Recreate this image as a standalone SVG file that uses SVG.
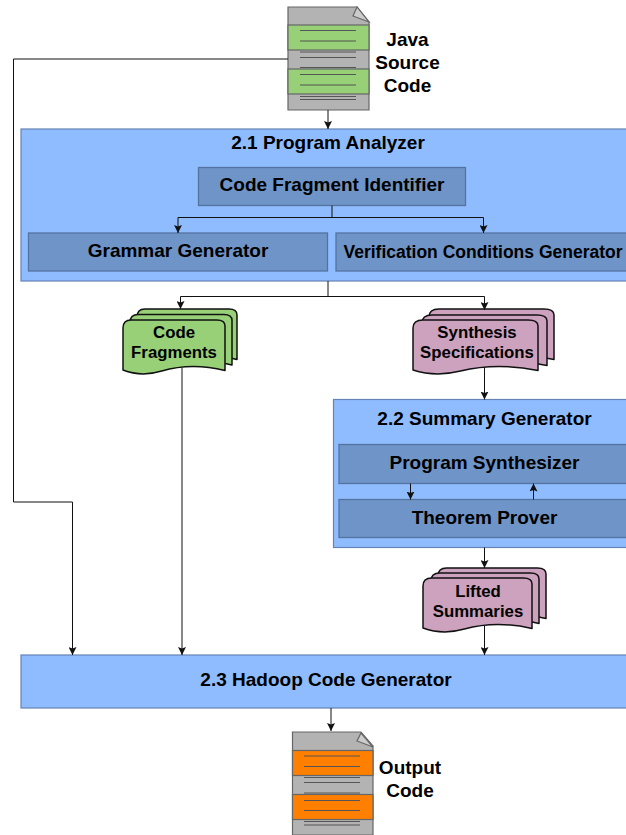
<svg xmlns="http://www.w3.org/2000/svg" width="626" height="835" viewBox="0 0 626 835">
<style>
text{font-family:"Liberation Sans",Arial,sans-serif;font-weight:bold;fill:#000;text-anchor:middle}
.t19{font-size:19px}.t17{font-size:16.800px;stroke:none}
.big{fill:#8fbcff;stroke:#6483b4;stroke-width:1.2}
.box{fill:#6f94c8;stroke:#55739f;stroke-width:1.3}
.con{fill:none;stroke:#111;stroke-width:1}
.doc{stroke:#666;stroke-width:1.2}
.ln{stroke:#555;stroke-width:1}
.st{stroke:#111;stroke-width:1.5;stroke-linejoin:round}
</style>
<defs>
<marker id="ah" markerWidth="9" markerHeight="8" refX="8" refY="4" orient="auto" markerUnits="userSpaceOnUse"><path d="M0,0L8,4L0,8L1.500,4Z" fill="#111"/></marker>
<path id="w" d="M0,12Q0,4 8,4H92Q100,4 100,10V54.500C78,49 58,49 38,55C22,60 10,58 0,54Z" vector-effect="non-scaling-stroke"/>
</defs>
<rect width="626" height="835" fill="#fff"/>
<g id="program-analyzer"><rect class="big" x="21" y="129" width="606" height="152"/><text class="t19" x="328" y="149">2.1 Program Analyzer</text></g>
<g id="code-fragment-identifier"><rect class="box" x="198.500" y="167.500" width="267" height="38"/><text class="t19" x="332" y="191">Code Fragment Identifier</text></g>
<g id="grammar-generator"><rect class="box" x="28.500" y="233" width="299" height="38"/><text class="t19" x="178" y="257">Grammar Generator</text></g>
<g id="vc-generator"><rect class="box" x="336" y="233" width="291" height="38"/><text x="483" y="257.500" style="font-size:17.500px">Verification Conditions Generator</text></g>
<g id="summary-generator"><rect class="big" x="333.500" y="399.500" width="294" height="148"/><text class="t19" x="484.500" y="425">2.2 Summary Generator</text></g>
<g id="program-synthesizer"><rect class="box" x="339" y="444.500" width="288" height="39"/><text class="t19" x="484.500" y="469">Program Synthesizer</text></g>
<g id="theorem-prover"><rect class="box" x="339" y="499.500" width="288" height="38"/><text class="t19" x="484.500" y="524">Theorem Prover</text></g>
<g id="hadoop-code-generator"><rect class="big" x="21" y="655" width="606" height="53"/><text class="t19" x="326" y="686">2.3 Hadoop Code Generator</text></g>
<g id="java-source-code">
<path class="doc" d="M288,7H357L369,22V110H288Z" fill="#b3b3b3"/>
<path class="doc" d="M357,7L353,16L369,22Z" fill="#ccc" stroke-width="1"/>
<rect class="doc" x="288" y="25" width="81" height="25" fill="#97d077"/>
<rect class="doc" x="288" y="69" width="81" height="25" fill="#97d077"/>
<path class="ln" d="M300,30.500H356M300,41H356M300,52H356M300,57.500H356M300,67.500H356M300,74.500H356M300,85H356M300,96.500H356M300,99.500H356"/>
<text class="t19" x="407.500" y="45.500">Java</text><text class="t19" x="407.500" y="68.500">Source</text><text class="t19" x="407.500" y="91.500">Code</text>
</g>
<g id="code-fragments" fill="#97d077" class="st">
<use href="#w" transform="translate(137,305)"/><use href="#w" transform="translate(130,310.500) scale(1.02,1)"/><use href="#w" transform="translate(123,316) scale(1.02,1)"/>
<text class="t17" x="174" y="338">Code</text><text class="t17" x="174" y="358">Fragments</text>
</g>
<g id="synthesis-specifications" fill="#cda2be" class="st">
<use href="#w" transform="translate(429,305) scale(1.25,1)"/><use href="#w" transform="translate(422,311) scale(1.25,1)"/><use href="#w" transform="translate(413,316) scale(1.25,1)"/>
<text class="t17" x="477" y="338">Synthesis</text><text class="t17" x="477" y="358">Specifications</text>
</g>
<g id="lifted-summaries" fill="#cda2be" class="st">
<use href="#w" transform="translate(438,564) scale(1.08,1)"/><use href="#w" transform="translate(431,569) scale(1.08,1)"/><use href="#w" transform="translate(423,574) scale(1.09,1)"/>
<text class="t17" x="478" y="597">Lifted</text><text class="t17" x="478" y="617">Summaries</text>
</g>
<g id="output-code">
<path class="doc" d="M292.500,732H361L373,746V835H292.500Z" fill="#b3b3b3"/>
<path class="doc" d="M361,733L357,741L373,747Z" fill="#ccc" stroke-width="1"/>
<rect class="doc" x="292.500" y="750.500" width="80.500" height="25" fill="#ff8000"/>
<rect class="doc" x="292.500" y="794.500" width="80.500" height="25" fill="#ff8000"/>
<path class="ln" d="M304,756H360M304,766.500H360M304,777.500H360M304,782.500H360M304,793H360M304,800.500H360M304,810.500H360M304,821.500H360M304,825H360"/>
<text class="t19" x="410" y="774">Output</text><text class="t19" x="410" y="797">Code</text>
</g>
<g id="connectors">
<path class="con" d="M328,110V129" marker-end="url(#ah)"/>
<path class="con" d="M288,59H13.500V502H72.500V655" marker-end="url(#ah)"/>
<path class="con" d="M332,205.500V217.500H178V233" marker-end="url(#ah)"/>
<path class="con" d="M332,217.500H483.500V233" marker-end="url(#ah)"/>
<path class="con" d="M328,281V296.500H180.500V309" marker-end="url(#ah)"/>
<path class="con" d="M328,296.500H484.500V310" marker-end="url(#ah)"/>
<path class="con" d="M182,368V655" marker-end="url(#ah)"/>
<path class="con" d="M484.500,367V399.500" marker-end="url(#ah)"/>
<path class="con" d="M410.500,483.500V499.500" marker-end="url(#ah)"/>
<path class="con" d="M533.500,499.500V483.500" marker-end="url(#ah)"/>
<path class="con" d="M484.500,547.500V568" marker-end="url(#ah)"/>
<path class="con" d="M484.500,626V655" marker-end="url(#ah)"/>
<path class="con" d="M331,708V731" marker-end="url(#ah)"/>
</g>
</svg>
